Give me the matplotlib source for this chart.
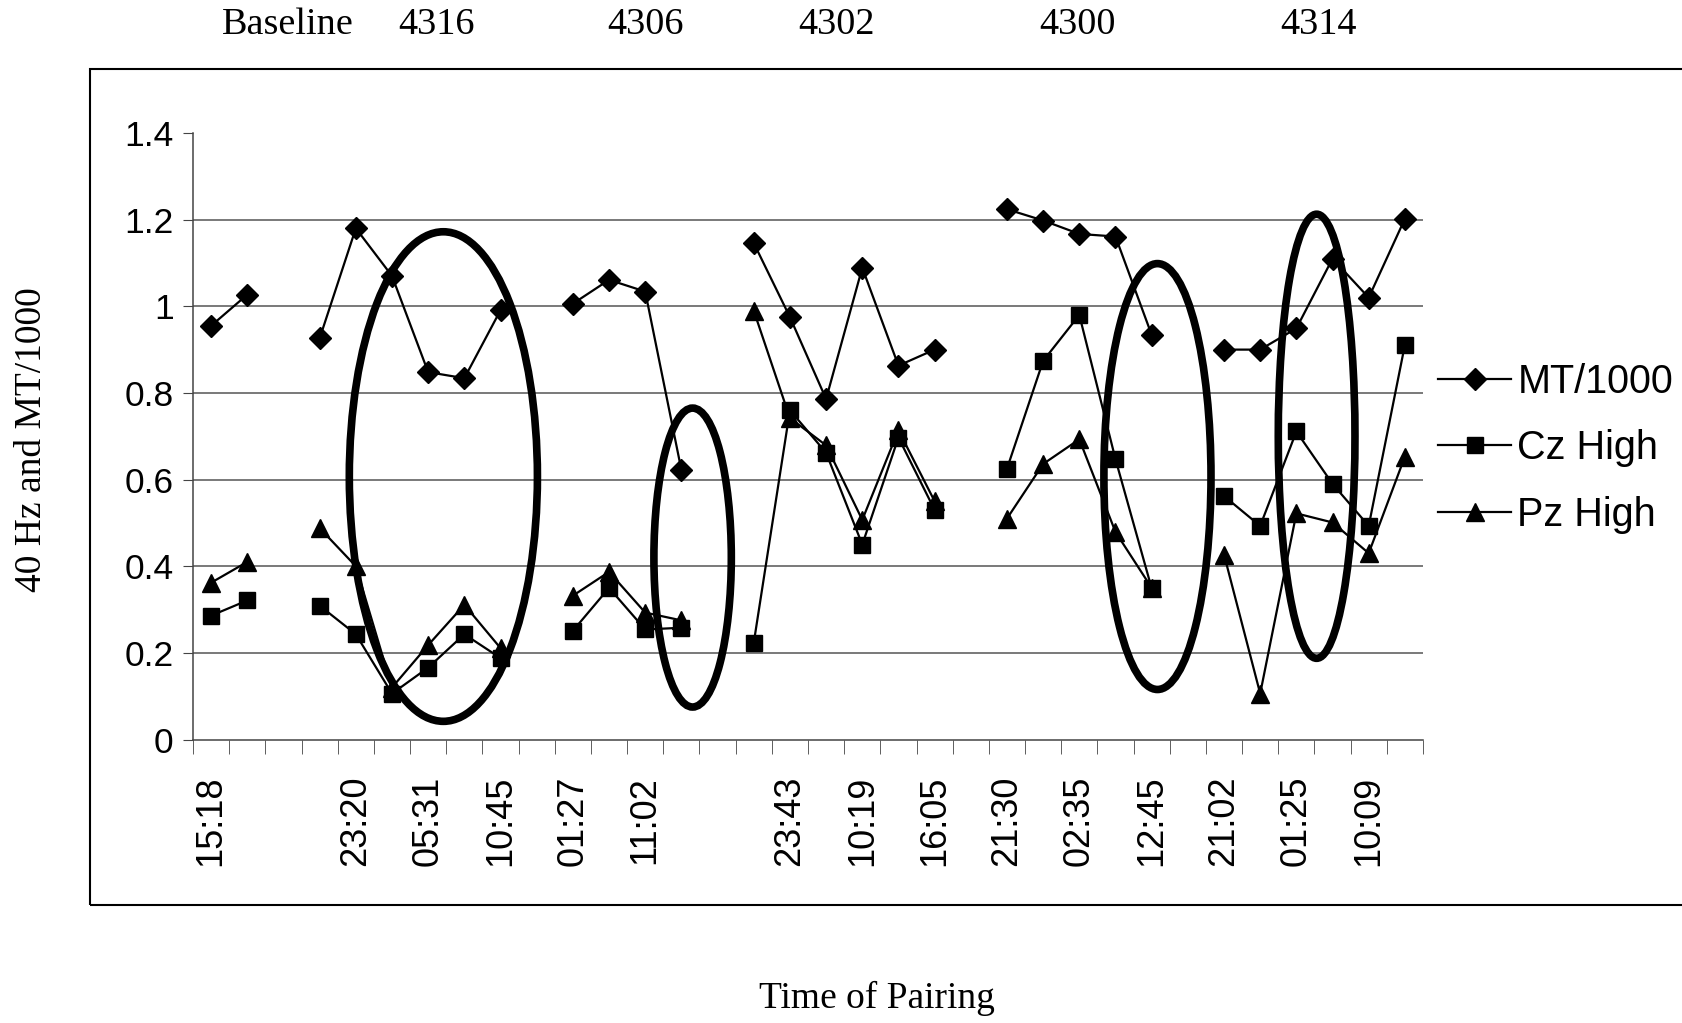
import numpy as np
import matplotlib
matplotlib.use("Agg")
import matplotlib.pyplot as plt
from matplotlib.patches import Ellipse, Rectangle

nan = np.nan

# 34 category slots, empty slots are the gaps between subjects
mt_1000 = [0.955, 1.027, nan, 0.926, 1.18, 1.07, 0.848, 0.834, 0.991, nan,
           1.006, 1.061, 1.034, 0.622, nan, 1.146, 0.975, 0.786, 1.089, 0.863,
           0.90, nan, 1.224, 1.198, 1.167, 1.161, 0.934, nan, 0.90, 0.90,
           0.949, 1.11, 1.02, 1.202]
cz_high = [0.286, 0.321, nan, 0.309, 0.243, 0.106, 0.166, 0.243, 0.188, nan,
           0.251, 0.35, 0.254, 0.258, nan, 0.223, 0.76, 0.662, 0.45, 0.697,
           0.53, nan, 0.625, 0.874, 0.98, 0.647, 0.349, nan, 0.562, 0.493,
           0.711, 0.59, 0.493, 0.911]
pz_high = [0.362, 0.41, nan, 0.488, 0.40, 0.12, 0.218, 0.311, 0.211, nan,
           0.332, 0.387, 0.293, 0.275, nan, 0.99, 0.742, 0.679, 0.507, 0.714,
           0.55, nan, 0.51, 0.636, 0.693, 0.479, 0.35, nan, 0.427, 0.106,
           0.522, 0.501, 0.43, 0.653]

# only every second category gets a label
tick_labels = ["15:18", "", "23:20", "05:31", "10:45", "01:27", "11:02", "",
               "23:43", "10:19", "16:05", "21:30", "02:35", "12:45", "21:02",
               "01:25", "10:09"]

groups = ["Baseline", "4316", "4306", "4302", "4300", "4314"]
group_x = [2.13, 6.24, 12.0, 17.3, 23.96, 30.6]

# circled regions: (center x, center y, width, height)
circles = [(6.42, 0.607, 5.2, 1.13),
           (13.31, 0.42, 2.14, 0.69),
           (26.16, 0.607, 2.96, 0.983),
           (30.56, 0.70, 2.12, 1.025)]

sans = "Liberation Sans"
serif = "Liberation Serif"

fig = plt.figure(figsize=(16.83, 10.23), dpi=100)
fig.patches.append(Rectangle((90 / 1683, 1 - 905 / 1023), 1.0, (905 - 69) / 1023,
                             transform=fig.transFigure, fill=False,
                             edgecolor="black", lw=1.5, clip_on=False))

ax = fig.add_axes([0.1147, 0.2771, 0.7308, 0.5929])
n = len(mt_1000)
x = np.arange(n)

for yv in [0.2, 0.4, 0.6, 0.8, 1.0, 1.2]:
    ax.axhline(yv, color="#555555", lw=1.1, zorder=1)

ax.plot(x, mt_1000, "-D", color="black", lw=1.6, ms=11, label="MT/1000", zorder=3)
ax.plot(x, cz_high, "-s", color="black", lw=1.6, ms=12, label="Cz High", zorder=3)
ax.plot(x, pz_high, "-^", color="black", lw=1.6, ms=13, label="Pz High", zorder=3)

for cx, cy, w, h in circles:
    ax.add_patch(Ellipse((cx, cy), w, h, fill=False, edgecolor="black", lw=5.5, zorder=4))

ax.set_xlim(-0.5, n - 0.5)
ax.set_ylim(0, 1.4)

ax.set_xticks(np.arange(0, n, 2))
ax.set_xticklabels(tick_labels, rotation=90, fontfamily=sans, fontsize=26)
ax.set_xticks(np.arange(-0.5, n, 1), minor=True)
ax.tick_params(axis="x", which="major", length=0, pad=26)
ax.tick_params(axis="x", which="minor", length=10, color="#444444", direction="out")

yt = np.arange(0, 1.41, 0.2)
ax.set_yticks(yt)
ax.set_yticklabels(["0", "0.2", "0.4", "0.6", "0.8", "1", "1.2", "1.4"],
                   fontfamily=sans, fontsize=25.5)
ax.tick_params(axis="y", length=7, pad=7, color="#444444")

for s in ["top", "right"]:
    ax.spines[s].set_visible(False)
for s in ["left", "bottom"]:
    ax.spines[s].set_color("#444444")
    ax.spines[s].set_linewidth(1.1)

leg = ax.legend(loc="center left", bbox_to_anchor=(0.8545, 0.562),
                bbox_transform=fig.transFigure, frameon=False, borderpad=0,
                borderaxespad=0, handlelength=1.85, handletextpad=0.15,
                labelspacing=0.72, prop={"family": sans, "size": 28.5})

# header row sits above the chart frame, centred over the category positions
for g, gx in zip(groups, group_x):
    xf = fig.transFigure.inverted().transform(ax.transData.transform((gx, 0)))[0]
    fig.text(xf, 0.976, g, ha="center", va="center", fontfamily=serif, fontsize=27.5)

fig.text(0.019, 0.570, "40 Hz and MT/1000", rotation=90, ha="center", va="center",
         fontfamily=serif, fontsize=27)
fig.text(0.521, 0.0244, "Time of Pairing", ha="center", va="center",
         fontfamily=serif, fontsize=27)

fig.savefig("out.png", dpi=100)
